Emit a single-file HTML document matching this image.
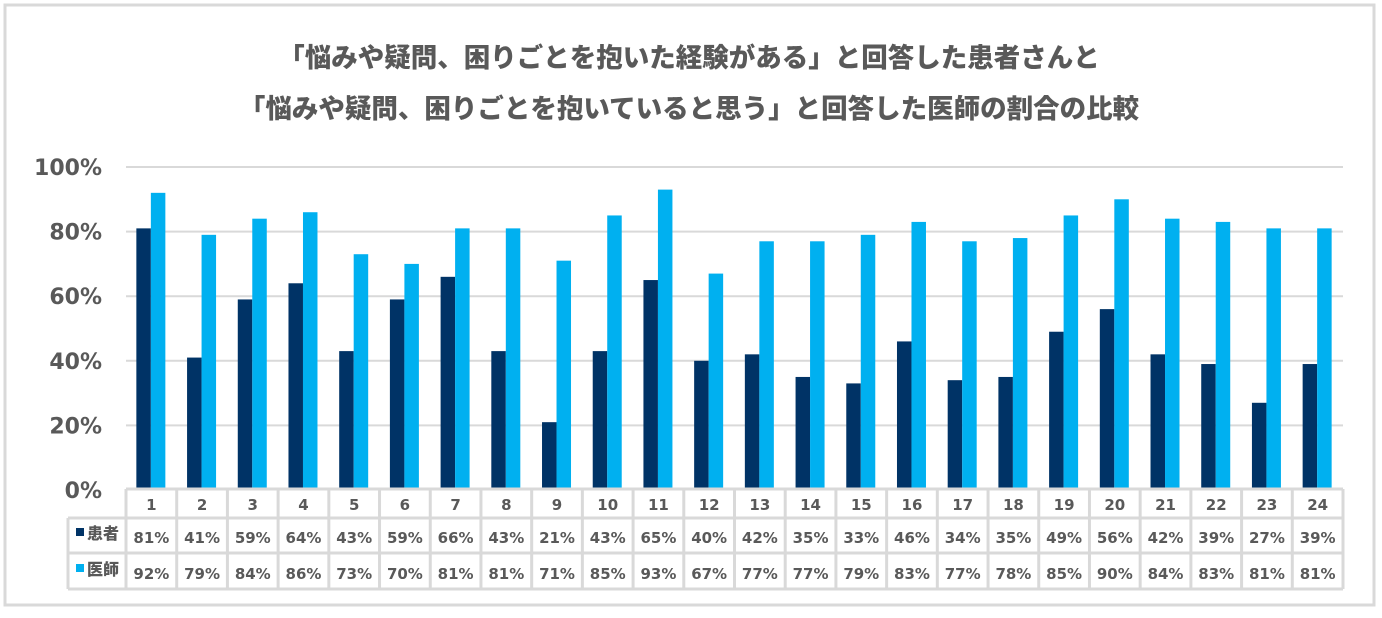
<!DOCTYPE html>
<html><head><meta charset="utf-8"><style>
body{margin:0;background:#fff}
svg text{font-family:"DejaVu Sans","Liberation Sans","Noto Sans CJK JP",sans-serif;font-weight:bold;fill:#595959}
</style></head><body>
<svg id="c" width="1382" height="613" xmlns="http://www.w3.org/2000/svg">
<rect x="5" y="5" width="1369" height="600" fill="#fff" stroke="#d9d9d9" stroke-width="3"/>
<text x="689" y="67" text-anchor="middle" font-size="26.5" style="font-family:'Noto Sans CJK JP',sans-serif;font-weight:900">「悩みや疑問、困りごとを抱いた経験がある」と回答した患者さんと</text>
<text x="689" y="118" text-anchor="middle" font-size="26.5" style="font-family:'Noto Sans CJK JP',sans-serif;font-weight:900">「悩みや疑問、困りごとを抱いていると思う」と回答した医師の割合の比較</text>
<g id="grid"></g><g id="bars"></g><g id="table"></g>
</svg>
<script>
const categories=["1","2","3","4","5","6","7","8","9","10","11","12","13","14","15","16","17","18","19","20","21","22","23","24"];
const patient=[81,41,59,64,43,59,66,43,21,43,65,40,42,35,33,46,34,35,49,56,42,39,27,39];
const doctor=[92,79,84,86,73,70,81,81,71,85,93,67,77,77,79,83,77,78,85,90,84,83,81,81];
const yTicks=[0,20,40,60,80,100];
const seriesNames=["患者","医師"];
const NS="http://www.w3.org/2000/svg";
const x0=126,x1=1343,cw=(x1-x0)/categories.length,y0=490,yTop=167;
const y=v=>y0-(v/100)*(y0-yTop);
function mk(t,a,p){const e=document.createElementNS(NS,t);for(const k in a)e.setAttribute(k,a[k]);p.appendChild(e);return e;}
const g=document.getElementById('grid'),b=document.getElementById('bars'),tb=document.getElementById('table');
yTicks.forEach(v=>{
 if(v>0){const l=mk('line',{x1:x0,x2:x1,y1:y(v),y2:y(v),stroke:'#d9d9d9','stroke-width':2},g);
 
 }
 const t=mk('text',{x:102,y:y(v)+8,'text-anchor':'end','font-size':22},g);t.textContent=v+'%';
 
 
});
const colors=["#003366","#00b0f0"];
categories.forEach((c,i)=>{
 const cx=x0+cw*(i+0.5);
 const r1=mk('rect',{x:cx-15,y:y(patient[i]),width:14.5,height:y0-y(patient[i]),fill:colors[0]},b);
 
 
 const r2=mk('rect',{x:cx-0.5,y:y(doctor[i]),width:14.5,height:y0-y(doctor[i]),fill:colors[1]},b);
 
 
 const h=mk('text',{x:cx,y:510,'text-anchor':'middle','font-size':15},tb);h.textContent=c;
 
 
 const p=mk('text',{x:cx,y:543,'text-anchor':'middle','font-size':15},tb);p.textContent=patient[i]+'%';
 
 
 const d=mk('text',{x:cx,y:579,'text-anchor':'middle','font-size':15},tb);d.textContent=doctor[i]+'%';
 
 
});
const st={stroke:'#d9d9d9','stroke-width':3};
[[x0,489,x1,489],[68,518,x1,518],[68,553,x1,553],[68,589,x1,589]].forEach(a=>{const l=mk('line',Object.assign({x1:a[0],y1:a[1],x2:a[2],y2:a[3]},st),tb);
 
 });
const v0=mk('line',Object.assign({x1:68,y1:518,x2:68,y2:589},st),tb);


for(let i=0;i<=categories.length;i++){const l=mk('line',Object.assign({x1:x0+cw*i,y1:489,x2:x0+cw*i,y2:589},st),tb);
 
 }
seriesNames.forEach((n,k)=>{
 const yy=k?571:535;
 const s=mk('rect',{x:76,y:yy-7,width:8,height:8,fill:colors[k]},tb);
 
 
 const t=mk('text',{x:87,y:yy+4,'font-size':16,style:"font-family:'Noto Sans CJK JP',sans-serif;font-weight:900"},tb);t.textContent=n;
 
 
});
</script>
</body></html>
